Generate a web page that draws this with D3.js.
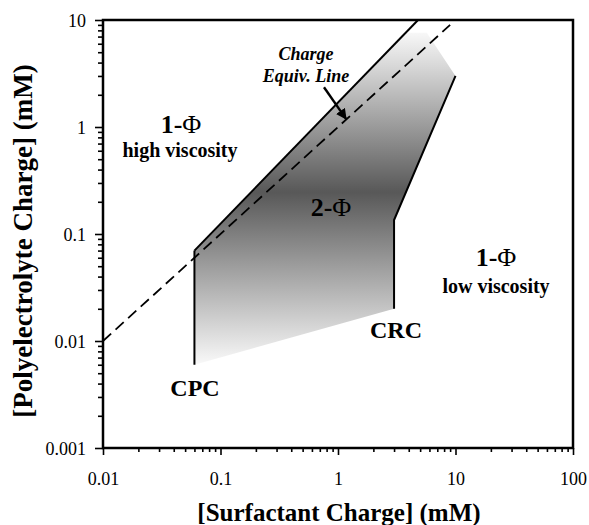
<!DOCTYPE html>
<html>
<head>
<meta charset="utf-8">
<script src="https://cdn.jsdelivr.net/npm/d3@7"></script>
<style>
  body { margin: 0; background: #fff; }
  text { font-family: "Liberation Serif", "Times New Roman", serif; }
</style>
</head>
<body>
<div id="chart"></div>
<script>
var w = 589;
var h = 525;

// tick labels
var xTickLabels = ["0.01", "0.1", "1", "10", "100"];
var yTickLabels = ["0.001", "0.01", "0.1", "1", "10"];

// phase boundaries (surfactant charge, polyelectrolyte charge), mM
var upperX = [0.06, 4.8];          // solid upper boundary
var upperY = [0.07, 10];
var cpcX = [0.06, 0.06];           // CPC line
var cpcY = [0.07, 0.006];
var crcX = [10, 3, 3];             // CRC boundary
var crcY = [3, 0.135, 0.02];
var equivX = [0.01, 9];            // charge equivalence line
var equivY = [0.01, 9];
// 2-phase region outline
var regionX = [0.06, 3.8, 5.7, 10, 3, 3, 0.06];
var regionY = [0.07, 7.6, 7.6, 3, 0.135, 0.02, 0.006];
// arrow to charge equiv line
var arrowX = [0.76, 1.17];
var arrowY = [2.35, 1.19];

var pL = 103, pR = 573, pT = 20, pB = 448;

var x = d3.scaleLog().domain([0.01, 100]).range([pL, pR]);
var y = d3.scaleLog().domain([0.001, 10]).range([pB, pT]);

var svg = d3.select("#chart")
  .append("svg")
  .attr("width", w)
  .attr("height", h);

var defs = svg.append("defs");
var grad = defs.append("linearGradient")
  .attr("id", "fade")
  .attr("gradientUnits", "userSpaceOnUse")
  .attr("x1", 0).attr("y1", 30)
  .attr("x2", 0).attr("y2", 368);
grad.append("stop").attr("offset", 0).attr("stop-color", "#fafafa");
grad.append("stop").attr("offset", 0.1).attr("stop-color", "#dadada");
grad.append("stop").attr("offset", 0.48).attr("stop-color", "#585858");
grad.append("stop").attr("offset", 1).attr("stop-color", "#fcfcfc");

defs.append("marker")
  .attr("id", "head")
  .attr("viewBox", "0 0 10 10")
  .attr("refX", 9).attr("refY", 5)
  .attr("markerWidth", 4.5).attr("markerHeight", 4.5)
  .attr("orient", "auto")
  .append("path")
  .attr("d", "M0,0 L10,5 L0,10 z")
  .attr("fill", "#000");

function pts(xs, ys) {
  return xs.map(function(d, i) { return [x(d), y(ys[i])]; });
}
var line = d3.line();

// shaded 2-phase region
svg.append("path")
  .attr("d", line(pts(regionX, regionY)) + "Z")
  .attr("fill", "url(#fade)");

// axes: major + minor ticks
function isMajor(v) { return Math.abs(Math.log10(v) - Math.round(Math.log10(v))) < 1e-6; }
var xMinor = x.ticks().filter(function(v) { return !isMajor(v); });
var yMinor = y.ticks().filter(function(v) { return !isMajor(v); });
var xMajor = xTickLabels.map(Number);
var yMajor = yTickLabels.map(Number);

svg.append("g").attr("class", "ax")
  .attr("transform", "translate(0," + pB + ")")
  .call(d3.axisBottom(x).tickValues(xMinor).tickSize(4).tickFormat(""));
var gx = svg.append("g").attr("class", "ax")
  .attr("transform", "translate(0," + pB + ")")
  .call(d3.axisBottom(x).tickValues(xMajor).tickSize(7)
    .tickFormat(function(d, i) { return xTickLabels[i]; }));
gx.selectAll("text")
  .attr("y", 37).attr("dy", 0);

svg.append("g").attr("class", "ax")
  .attr("transform", "translate(" + pL + ",0)")
  .call(d3.axisLeft(y).tickValues(yMinor).tickSize(5).tickFormat(""));
var gy = svg.append("g").attr("class", "ax")
  .attr("transform", "translate(" + pL + ",0)")
  .call(d3.axisLeft(y).tickValues(yMajor).tickSize(8).tickPadding(9)
    .tickFormat(function(d, i) { return yTickLabels[i]; }));
gy.selectAll("text").attr("dy", "0.36em");

svg.selectAll(".ax .domain").remove();
svg.selectAll(".ax line").attr("stroke", "#000").attr("stroke-width", 1.6);
svg.selectAll(".ax text")
  .attr("font-size", "18px")
  .attr("font-family", "Liberation Serif")
  .attr("fill", "#000");

// frame
svg.append("rect")
  .attr("x", pL).attr("y", pT)
  .attr("width", pR - pL).attr("height", pB - pT)
  .attr("fill", "none")
  .attr("stroke", "#000")
  .attr("stroke-width", 2.5);

// charge equiv line (dashed)
svg.append("path")
  .attr("d", line(pts(equivX, equivY)))
  .attr("fill", "none")
  .attr("stroke", "#000")
  .attr("stroke-width", 1.8)
  .attr("stroke-dasharray", "11,6");

// solid boundaries
[[upperX, upperY], [cpcX, cpcY], [crcX, crcY]].forEach(function(b) {
  svg.append("path")
    .attr("d", line(pts(b[0], b[1])))
    .attr("fill", "none")
    .attr("stroke", "#000")
    .attr("stroke-width", 2);
});

// arrow
svg.append("path")
  .attr("d", line(pts(arrowX, arrowY)))
  .attr("stroke", "#000")
  .attr("stroke-width", 2.4)
  .attr("marker-end", "url(#head)");

// labels
function label(txt, px, py, size, style) {
  return svg.append("text")
    .attr("x", px).attr("y", py)
    .attr("text-anchor", "middle")
    .attr("font-size", size + "px")
    .attr("font-weight", "bold")
    .attr("font-style", style || "normal")
    .attr("fill", "#000")
    .text(txt);
}
label("Charge", 306, 60, 18, "italic");
label("Equiv. Line", 306, 82, 18, "italic");

function phi(px, py, num) {
  var t = svg.append("text")
    .attr("x", px).attr("y", py)
    .attr("text-anchor", "middle")
    .attr("font-size", "26px")
    .attr("fill", "#000");
  t.append("tspan").attr("font-weight", "bold").text(num + "-");
  t.append("tspan").text("\u03A6");
}
phi(181, 133, "1");
label("high viscosity", 180, 157, 20);
phi(331, 216, "2");
phi(496, 266, "1");
label("low viscosity", 496, 293, 20);
label("CPC", 195, 396, 24);
label("CRC", 396, 338, 24);

// axis titles
label("[Surfactant Charge] (mM)", 339, 521, 25);
svg.append("text")
  .attr("transform", "translate(32,241) rotate(-90)")
  .attr("text-anchor", "middle")
  .attr("font-size", "27px")
  .attr("font-weight", "bold")
  .attr("fill", "#000")
  .text("[Polyelectrolyte Charge] (mM)");
</script>
</body>
</html>
